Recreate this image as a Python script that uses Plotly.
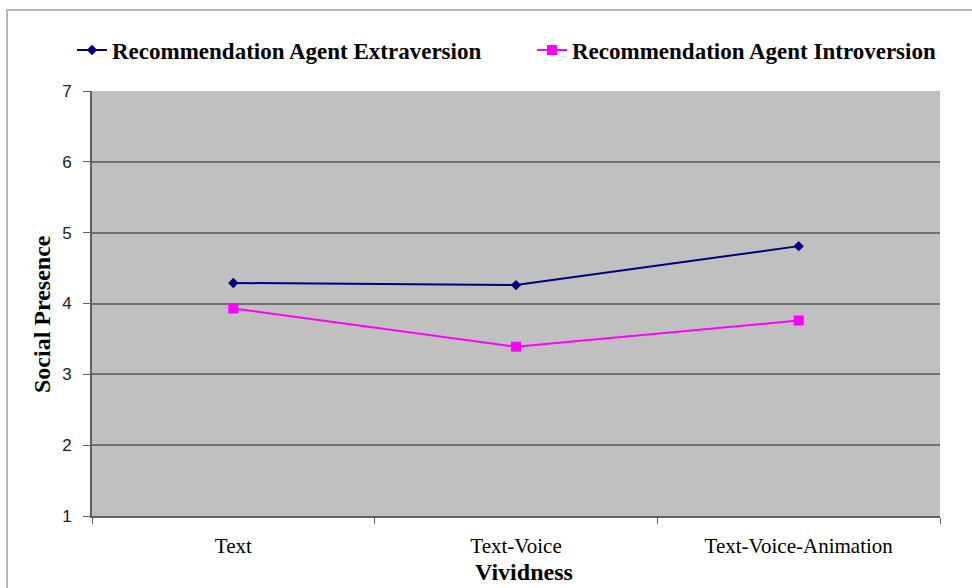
import plotly.graph_objects as go

categories = ["Text", "Text-Voice", "Text-Voice-Animation"]
extraversion = [4.29, 4.26, 4.81]
introversion = [3.93, 3.39, 3.76]
y_ticks = [1, 2, 3, 4, 5, 6, 7]

W, H = 972, 588
L, R, T, B = 92, 32, 91, 72
pw, ph = W - L - R, H - T - B


def px_x(x):
    """Convert a pixel column to paper x."""
    return (x - L) / pw


def px_y(y):
    """Convert a pixel row to paper y."""
    return 1 - (y - T) / ph


legend_font = dict(family="Liberation Serif", size=23, color="black", weight="bold")
title_font = dict(family="Liberation Serif", color="black")

fig = go.Figure()
fig.add_trace(go.Scatter(
    x=categories, y=extraversion, mode="lines+markers",
    name="Recommendation Agent Extraversion",
    line=dict(color="#000080", width=2),
    marker=dict(symbol="diamond", size=8, color="#000080"),
    legend="legend",
))
fig.add_trace(go.Scatter(
    x=categories, y=introversion, mode="lines+markers",
    name="Recommendation Agent Introversion",
    line=dict(color="#FF00FF", width=2),
    marker=dict(symbol="square", size=10, color="#FF00FF"),
    legend="legend2",
))

# outer chart frame
fig.add_shape(type="rect", xref="paper", yref="paper",
              x0=px_x(7), x1=px_x(990), y0=px_y(620), y1=px_y(10),
              line=dict(color="#A0A0A0", width=1.5), fillcolor="rgba(0,0,0,0)",
              layer="below")

# axis titles
fig.add_annotation(text="<b>Social Presence</b>", xref="paper", yref="paper",
                   x=px_x(42), y=px_y(314), textangle=-90, showarrow=False,
                   xanchor="center", yanchor="middle",
                   font=dict(title_font, size=24))
fig.add_annotation(text="<b>Vividness</b>", xref="paper", yref="paper",
                   x=px_x(524), y=px_y(572), showarrow=False,
                   xanchor="center", yanchor="middle",
                   font=dict(title_font, size=24))

fig.update_layout(
    width=W, height=H,
    margin=dict(l=L, r=R, t=T, b=B, autoexpand=False),
    paper_bgcolor="white",
    plot_bgcolor="#C0C0C0",
    showlegend=True,
    legend=dict(
        xref="container", yref="container",
        x=72 / W, y=1 - 50 / H, xanchor="left", yanchor="middle",
        font=legend_font, bgcolor="rgba(0,0,0,0)",
    ),
    legend2=dict(
        xref="container", yref="container",
        x=532 / W, y=1 - 50 / H, xanchor="left", yanchor="middle",
        font=legend_font, bgcolor="rgba(0,0,0,0)",
    ),
    xaxis=dict(
        type="category", range=[-0.5, 2.5], automargin=False,
        showgrid=False, showline=True, linecolor="#606060", linewidth=2,
        ticks="outside", tickson="boundaries", ticklen=6, tickcolor="#606060",
        ticklabelstandoff=10, tickangle=0,
        tickfont=dict(family="Liberation Serif", size=21, color="black"),
    ),
    yaxis=dict(
        range=[1, 7], tickvals=y_ticks, automargin=False,
        showgrid=True, gridcolor="#707070", gridwidth=2,
        showline=True, linecolor="#606060", linewidth=2,
        ticks="outside", ticklen=7, tickcolor="#606060",
        ticklabelstandoff=8,
        tickfont=dict(family="Liberation Sans", size=17, color="#202020"),
        zeroline=False,
    ),
)

fig.write_html("out.html")
